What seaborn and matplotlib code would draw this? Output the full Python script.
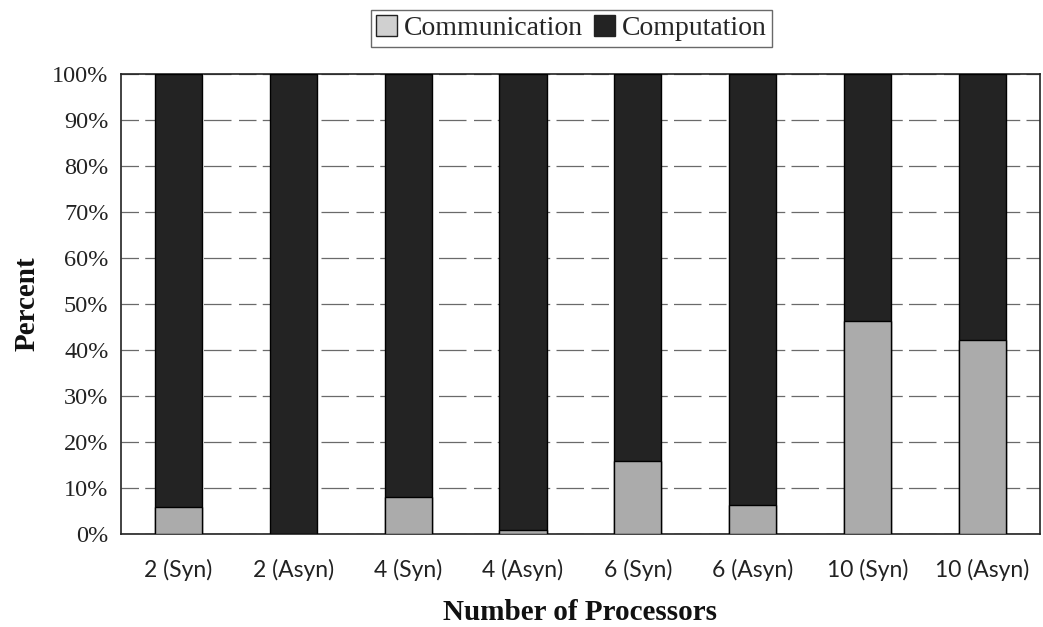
import matplotlib
matplotlib.use("Agg")
import matplotlib.pyplot as plt
import seaborn as sns
import pandas as pd
import numpy as np
from matplotlib.patches import Patch
from matplotlib.ticker import FixedLocator, PercentFormatter

categories = ["2 (Syn)", "2 (Asyn)", "4 (Syn)", "4 (Asyn)",
              "6 (Syn)", "6 (Asyn)", "10 (Syn)", "10 (Asyn)"]
communication = [5.9, 0.0, 8.0, 1.0, 16.0, 6.3, 46.3, 42.2]
computation = [100 - c for c in communication]

df = pd.DataFrame({"config": categories,
                   "communication": communication,
                   "computation": computation})
df["total"] = df["communication"] + df["computation"]

sns.set_theme(style="white")
serif = ["Liberation Serif", "DejaVu Serif"]

fig = plt.figure(figsize=(10.43, 6.27), dpi=100)
ax = fig.add_axes([0.116, 0.148, 0.881, 0.734])

comp_color = "#232323"
comm_color = "#ababab"

# full stack (computation on top of communication)
sns.barplot(data=df, x="config", y="total", color=comp_color, width=0.41,
            edgecolor="black", linewidth=1.0, saturation=1, ax=ax, zorder=3)
sns.barplot(data=df, x="config", y="communication", color=comm_color, width=0.41,
            edgecolor="black", linewidth=1.0, saturation=1, ax=ax, zorder=4)

ax.set_ylim(0, 100)
ax.set_xlim(-0.5, len(categories) - 0.5)
ax.yaxis.set_major_locator(FixedLocator(np.arange(0, 101, 10)))
ax.yaxis.set_major_formatter(PercentFormatter(decimals=0))
ax.grid(axis="y", color="#6a6a6a", linestyle=(0, (14, 5, 22, 6)), linewidth=0.9, zorder=0)
ax.set_axisbelow(True)

for s in ax.spines.values():
    s.set_color("#222222")
    s.set_linewidth(1.2)

ax.tick_params(axis="y", which="major", direction="out", length=5, width=1,
               color="#333333", pad=4)
for lbl in ax.get_yticklabels():
    lbl.set_fontfamily(serif)
    lbl.set_fontsize(17.5)
    lbl.set_color("#222222")

# x ticks drawn at category boundaries, labels at centres
ax.set_xticks(np.arange(len(categories)))
ax.set_xticklabels(categories, fontsize=16.5, color="#222222",
                   fontfamily=["Lato", "DejaVu Sans"])
ax.tick_params(axis="x", which="major", length=0, pad=18)
ax.set_xticks(np.arange(-0.5, len(categories), 1.0), minor=True)
ax.tick_params(axis="x", which="minor", direction="out", length=5, width=1, color="#333333")

ax.set_xlabel("Number of Processors", fontsize=21, fontweight="bold",
              fontfamily=serif, labelpad=13, color="#111111")
ax.set_ylabel("Percent", fontsize=21, fontweight="bold",
              fontfamily=serif, labelpad=8, color="#111111")

handles = [Patch(facecolor="#d0d0d0", edgecolor="#222222", label="Communication"),
           Patch(facecolor=comp_color, edgecolor="#222222", label="Computation")]
leg = fig.legend(handles=handles, loc="center", bbox_to_anchor=(0.548, 0.955),
                 ncol=2, frameon=True, fancybox=False, prop={"family": serif, "size": 20},
                 handlelength=0.75, handleheight=0.75, handletextpad=0.25,
                 columnspacing=0.4, borderpad=0.2, borderaxespad=0)
leg.get_frame().set_edgecolor("#444444")
leg.get_frame().set_linewidth(1.0)

fig.savefig("out.png", dpi=100)
